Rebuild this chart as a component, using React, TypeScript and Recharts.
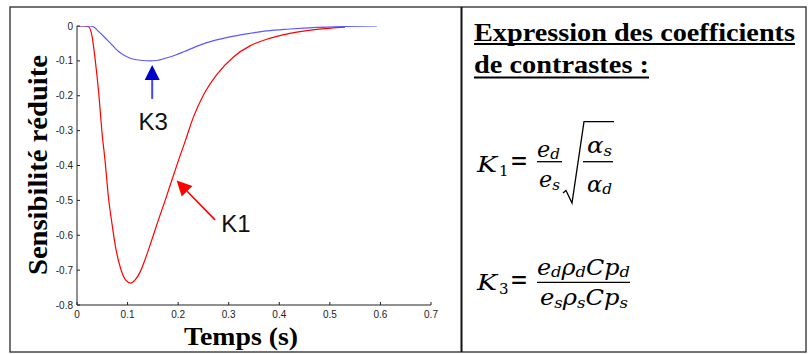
import { LineChart, Line, XAxis, YAxis, ReferenceLine, ReferenceDot } from 'recharts';

// K1 curve (red)
const k1Time = [0, 0.015, 0.023, 0.03, 0.036, 0.043, 0.049, 0.056, 0.062, 0.069, 0.076, 0.086, 0.096, 0.106, 0.115, 0.125, 0.135, 0.148, 0.161, 0.175, 0.188, 0.201, 0.214, 0.23, 0.25, 0.276, 0.31, 0.342, 0.375, 0.421, 0.474, 0.53];
const k1Value = [0, 0, -0.002, -0.031, -0.097, -0.193, -0.298, -0.394, -0.489, -0.565, -0.632, -0.694, -0.728, -0.737, -0.728, -0.705, -0.668, -0.613, -0.556, -0.497, -0.44, -0.384, -0.33, -0.262, -0.198, -0.14, -0.088, -0.057, -0.038, -0.021, -0.0095, -0.003];

// K3 curve (blue)
const k3Time = [0, 0.025, 0.033, 0.043, 0.053, 0.063, 0.073, 0.083, 0.093, 0.103, 0.115, 0.13, 0.145, 0.157, 0.178, 0.195, 0.211, 0.244, 0.276, 0.31, 0.342, 0.375, 0.421, 0.474, 0.53, 0.593];
const k3Value = [0, 0, -0.003, -0.016, -0.03, -0.045, -0.06, -0.074, -0.084, -0.091, -0.096, -0.099, -0.1, -0.099, -0.091, -0.083, -0.074, -0.054, -0.04, -0.029, -0.021, -0.014, -0.0086, -0.004, -0.0015, 0];

const xTicks = [0, 0.1, 0.2, 0.3, 0.4, 0.5, 0.6, 0.7];
const yTicks = [0, -0.1, -0.2, -0.3, -0.4, -0.5, -0.6, -0.7, -0.8];

const k1Data = k1Time.map((t, i) => ({ t, v: k1Value[i] }));
const k3Data = k3Time.map((t, i) => ({ t, v: k3Value[i] }));

const SANS = '"Liberation Sans", Arial, sans-serif';
const SERIF = '"Liberation Serif", "Times New Roman", serif';
const MATH = '"DejaVu Serif", serif';

const XTick = ({ x, y, payload }: any) => (
  <g>
    <line x1={x} x2={x} y1={y} y2={y - 3} stroke="#222" />
    <text x={x} y={y + 13} textAnchor="middle" fontSize={10} fill="#222" fontFamily={SANS}>
      {payload.value}
    </text>
  </g>
);

const YTick = ({ x, y, payload }: any) => (
  <g>
    <line x1={x} x2={x + 3} y1={y} y2={y} stroke="#222" />
    <text x={x - 4} y={y + 3.5} textAnchor="end" fontSize={10} fill="#222" fontFamily={SANS}>
      {payload.value}
    </text>
  </g>
);

const arrow = (shaft: string, head: string, width: number) => (p: any) => {
  const { x1, y1, x2, y2 } = p;
  const dx = x2 - x1;
  const dy = y2 - y1;
  const len = Math.hypot(dx, dy) || 1;
  const ux = dx / len;
  const uy = dy / len;
  const hl = 15;
  const hw = 7.5;
  const bx = x2 - ux * hl;
  const by = y2 - uy * hl;
  return (
    <g>
      <line x1={x1} y1={y1} x2={bx} y2={by} stroke={shaft} strokeWidth={width} />
      <polygon
        points={`${x2},${y2} ${bx - uy * hw},${by + ux * hw} ${bx + uy * hw},${by - ux * hw}`}
        fill={head}
      />
    </g>
  );
};

const tag = (txt: string, anchor: string) => (p: any) => (
  <text x={p.cx} y={p.cy} textAnchor={anchor} fontSize={24} fill="#111" fontFamily={SANS}>
    {txt}
  </text>
);

function Plot() {
  return (
    <LineChart width={451} height={345} margin={{ top: 19, right: 30, left: 0, bottom: 0 }}>
      <XAxis
        dataKey="t"
        type="number"
        domain={[0, 0.7]}
        ticks={xTicks}
        tick={<XTick />}
        tickLine={false}
        tickSize={0}
        tickMargin={0}
        height={47}
        axisLine={{ stroke: '#222' }}
        allowDataOverflow
        label={{
          content: () => (
            <text x={231} y={338} textAnchor="middle" fontSize={26} fontWeight="bold" fontFamily={SERIF} fill="#000" textLength={114} lengthAdjust="spacingAndGlyphs">
              Temps (s)
            </text>
          ),
        }}
      />
      <YAxis
        type="number"
        domain={[-0.8, 0]}
        ticks={yTicks}
        tick={<YTick />}
        tickLine={false}
        tickSize={0}
        tickMargin={0}
        width={67}
        axisLine={{ stroke: '#222' }}
        allowDataOverflow
        label={{
          content: () => (
            <text x={37} y={158} transform="rotate(-90 37 158)" textAnchor="middle" fontSize={27} fontWeight="bold" fontFamily={SERIF} fill="#000" textLength={220} lengthAdjust="spacingAndGlyphs">
              Sensibilité réduite
            </text>
          ),
        }}
      />
      <Line data={k1Data} dataKey="v" type="monotone" stroke="#ff0000" strokeWidth={1.2} dot={false} isAnimationActive={false} />
      <Line data={k3Data} dataKey="v" type="monotone" stroke="#5a5aff" strokeWidth={1.2} dot={false} isAnimationActive={false} />
      <ReferenceLine segment={[{ x: 0.1487, y: -0.209 }, { x: 0.1487, y: -0.112 }]} ifOverflow="visible" shape={arrow('#4545e8', '#0000cc', 2)} />
      <ReferenceLine segment={[{ x: 0.273, y: -0.556 }, { x: 0.197, y: -0.443 }]} ifOverflow="visible" shape={arrow('#ff0000', '#ff0000', 1.6)} />
      <ReferenceDot x={0.1508} y={-0.298} ifOverflow="visible" shape={tag('K3', 'middle')} />
      <ReferenceDot x={0.285} y={-0.591} ifOverflow="visible" shape={tag('K1', 'start')} />
    </LineChart>
  );
}

const it = { fontFamily: MATH, fontStyle: 'italic' as const, lengthAdjust: 'spacingAndGlyphs' };

export default function App() {
  return (
    <div style={{ position: 'absolute', left: 0, top: 0, width: 809, height: 354, background: '#fff' }}>
      <div style={{ position: 'absolute', left: 10, top: 7 }}>
        <Plot />
      </div>
      <svg width={809} height={354} style={{ position: 'absolute', left: 0, top: 0, pointerEvents: 'none' }}>
        <rect x={10} y={7} width={796} height={345} fill="none" stroke="#444" strokeWidth={1.5} />
        <line x1={461.5} x2={461.5} y1={7} y2={352} stroke="#111" strokeWidth={2} />

        <text x={474} y={41} fontSize={26} fontWeight="bold" fontFamily={SERIF} textLength={321} lengthAdjust="spacingAndGlyphs">
          Expression des coefficients
        </text>
        <line x1={474} x2={795} y1={44} y2={44} stroke="#000" strokeWidth={2} />
        <text x={474} y={73} fontSize={26} fontWeight="bold" fontFamily={SERIF} textLength={175} lengthAdjust="spacingAndGlyphs">
          de contrastes :
        </text>
        <line x1={474} x2={649} y1={77.5} y2={77.5} stroke="#000" strokeWidth={2} />

        {/* K1 */}
        <text x={477} y={172} fontSize={22} {...it} textLength={20}>K</text>
        <text x={499} y={176} fontSize={15} fontFamily={MATH}>1</text>
        <text x={510} y={170} fontSize={28} fontFamily={MATH} textLength={18} lengthAdjust="spacingAndGlyphs">=</text>
        <text x={537} y={157} fontSize={22} {...it} textLength={23}>e<tspan fontSize={15} dy={2}>d</tspan></text>
        <line x1={537} x2={562} y1={161.7} y2={161.7} stroke="#000" strokeWidth={1.3} />
        <text x={539} y={187} fontSize={22} {...it} textLength={21}>e<tspan fontSize={15} dy={3}>s</tspan></text>
        <path d="M563,193 L566,190.5 L572,203 L584,121.7 L614,121.7" fill="none" stroke="#000" strokeWidth={1.3} />
        <text x={587} y={153} fontSize={22} {...it} textLength={25}>α<tspan fontSize={15} dy={3}>s</tspan></text>
        <line x1={583} x2={613} y1={161.7} y2={161.7} stroke="#000" strokeWidth={1.3} />
        <text x={587} y={192} fontSize={22} {...it} textLength={25}>α<tspan fontSize={15} dy={2}>d</tspan></text>

        {/* K3 */}
        <text x={477} y={290} fontSize={22} {...it} textLength={20}>K</text>
        <text x={499} y={294} fontSize={15} fontFamily={MATH}>3</text>
        <text x={510} y={289} fontSize={28} fontFamily={MATH} textLength={18} lengthAdjust="spacingAndGlyphs">=</text>
        <text x={537} y={275} fontSize={22} {...it} textLength={93}>
          e<tspan fontSize={15} dy={2}>d</tspan><tspan dy={-2}>ρ</tspan><tspan fontSize={15} dy={2}>d</tspan><tspan dy={-2}>Cp</tspan><tspan fontSize={15} dy={2}>d</tspan>
        </text>
        <line x1={537} x2={630} y1={282.3} y2={282.3} stroke="#000" strokeWidth={1.3} />
        <text x={540} y={305} fontSize={22} {...it} textLength={88}>
          e<tspan fontSize={15} dy={3}>s</tspan><tspan dy={-3}>ρ</tspan><tspan fontSize={15} dy={3}>s</tspan><tspan dy={-3}>Cp</tspan><tspan fontSize={15} dy={3}>s</tspan>
        </text>
      </svg>
    </div>
  );
}
